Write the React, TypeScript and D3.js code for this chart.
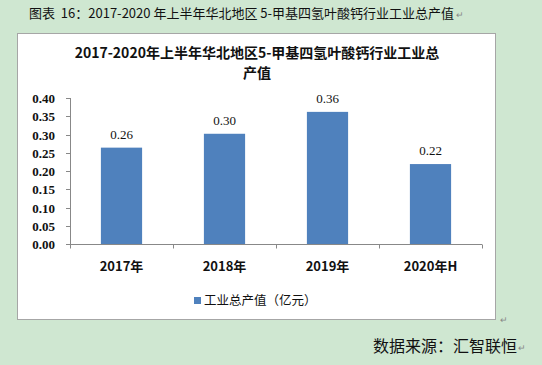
import * as d3 from 'd3';
import React, { useRef, useEffect } from 'react';

const categories = ['2017年', '2018年', '2019年', '2020年H'];
const values = [0.264, 0.302, 0.362, 0.219];
const yTicks = [0, 0.05, 0.1, 0.15, 0.2, 0.25, 0.3, 0.35, 0.4];
const seriesName = '工业总产值（亿元）';
const chartTitle = ['2017-2020年上半年华北地区5-甲基四氢叶酸钙行业工业总', '产值'];
const caption = '图表  16：2017-2020 年上半年华北地区 5-甲基四氢叶酸钙行业工业总产值';
const source = '数据来源：汇智联恒';

const cjk = '"Noto Sans CJK SC", "Noto Sans", sans-serif';
const num = '"Liberation Serif", "DejaVu Serif", serif';

const App = () => {
  const ref = useRef<SVGSVGElement>(null);

  useEffect(() => {
    document.body.style.margin = '0';
    const svg = d3.select(ref.current);
    svg.selectAll('*').remove();

    // page background
    svg.append('rect').attr('width', 542).attr('height', 365).attr('fill', '#cfe7d1');

    svg.append('text')
      .attr('x', 29).attr('y', 18)
      .style('white-space', 'pre')
      .attr('font-family', cjk).attr('font-size', 13).attr('fill', '#111')
      .text(caption);
    svg.append('text')
      .attr('x', 456).attr('y', 18)
      .attr('font-family', cjk).attr('font-size', 9).attr('fill', '#888')
      .text('↵');

    // chart box
    svg.append('rect')
      .attr('x', 17.5).attr('y', 33.5).attr('width', 478).attr('height', 286)
      .attr('fill', '#fff').attr('stroke', '#a6a6a6');

    chartTitle.forEach((t, i) => {
      svg.append('text')
        .attr('x', 257).attr('y', 58 + i * 20)
        .attr('text-anchor', 'middle')
        .attr('font-family', cjk).attr('font-size', 14).attr('font-weight', 'bold')
        .attr('fill', '#111')
        .text(t);
    });

    const margin = { left: 70, top: 98 };
    const w = 412;
    const h = 146;

    const g = svg.append('g')
      .attr('transform', `translate(${margin.left}, ${margin.top})`);

    const xScale = d3.scaleBand().domain(categories).range([0, w]).paddingInner(0.6).paddingOuter(0.3);
    const bandScale = d3.scaleBand().domain(categories).range([0, w]);
    const yScale = d3.scaleLinear().domain([0, 0.4]).range([h, 0]);

    // y axis
    const yAxis = g.append('g');
    yAxis.append('line').attr('x1', 0.5).attr('x2', 0.5).attr('y1', 0).attr('y2', h).attr('stroke', '#888');
    yAxis.selectAll('.tick').data(yTicks).enter().append('g')
      .each(function (d) {
        const t = d3.select(this);
        const y = Math.round(yScale(d)) + 0.5;
        t.append('line').attr('x1', -4).attr('x2', 0).attr('y1', y).attr('y2', y).attr('stroke', '#888');
        t.append('text')
          .attr('x', -15).attr('y', y).attr('dy', '0.35em')
          .attr('text-anchor', 'end')
          .attr('font-family', num).attr('font-size', 13).attr('font-weight', 'bold').attr('fill', '#111')
          .text(d.toFixed(2));
      });

    // x axis
    const xAxis = g.append('g').attr('transform', `translate(0, ${h + 0.5})`);
    xAxis.append('line').attr('x1', 0).attr('x2', w).attr('stroke', '#888');
    const edges = categories.map(c => bandScale(c) as number).concat([w]);
    xAxis.selectAll('.xt').data(edges).enter().append('line')
      .attr('x1', d => Math.round(d) + 0.5).attr('x2', d => Math.round(d) + 0.5)
      .attr('y1', 0).attr('y2', 4).attr('stroke', '#888');
    xAxis.selectAll('.xl').data(categories).enter().append('text')
      .attr('x', d => (bandScale(d) as number) + bandScale.bandwidth() / 2)
      .attr('y', 26)
      .attr('text-anchor', 'middle')
      .attr('font-family', cjk).attr('font-size', 13).attr('font-weight', 'bold').attr('fill', '#111')
      .text(d => d);

    // bars
    g.selectAll('.bar').data(values).enter().append('rect')
      .attr('x', (d, i) => xScale(categories[i]) as number)
      .attr('width', xScale.bandwidth())
      .attr('y', d => yScale(d))
      .attr('height', d => h - yScale(d))
      .attr('fill', '#4f81bd');

    g.selectAll('.lbl').data(values).enter().append('text')
      .attr('x', (d, i) => (xScale(categories[i]) as number) + xScale.bandwidth() / 2)
      .attr('y', d => yScale(d) - 9)
      .attr('text-anchor', 'middle')
      .attr('font-family', num).attr('font-size', 13).attr('fill', '#111')
      .text(d => d.toFixed(2));

    // legend
    svg.append('rect').attr('x', 194).attr('y', 297).attr('width', 7).attr('height', 7).attr('fill', '#4f81bd');
    svg.append('text')
      .attr('x', 204).attr('y', 305)
      .attr('font-family', cjk).attr('font-size', 12.5).attr('fill', '#111')
      .text(seriesName);

    svg.append('text')
      .attr('x', 500).attr('y', 323)
      .attr('font-family', cjk).attr('font-size', 9).attr('fill', '#888')
      .text('↵');

    svg.append('text')
      .attr('x', 373).attr('y', 352)
      .attr('font-family', cjk).attr('font-size', 16).attr('fill', '#111')
      .text(source);
    svg.append('text')
      .attr('x', 518).attr('y', 351)
      .attr('font-family', cjk).attr('font-size', 9).attr('fill', '#888')
      .text('↵');
  }, []);

  return (
    <svg ref={ref} width={542} height={365} style={{ display: 'block' }}></svg>
  );
};

export default App;
